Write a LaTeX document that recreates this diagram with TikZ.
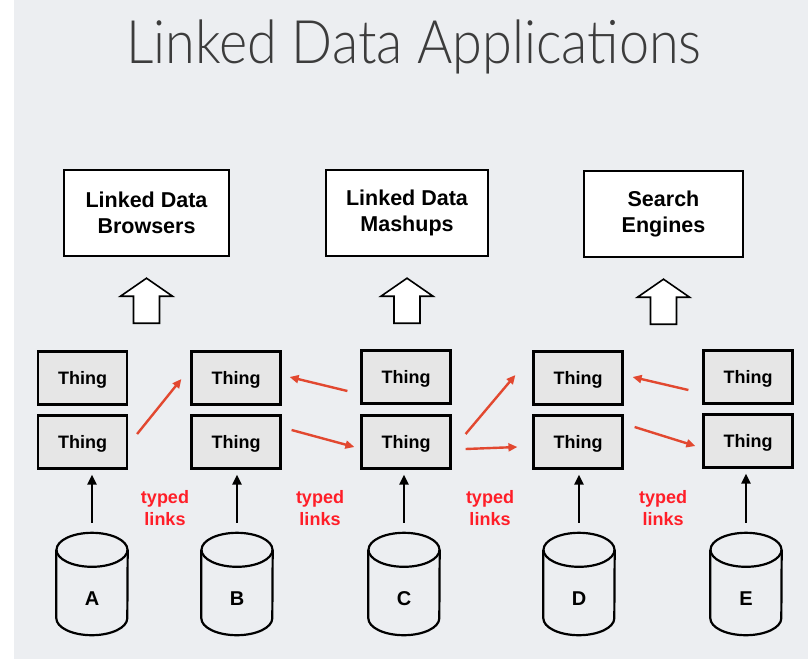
\documentclass[tikz,border=0pt]{standalone}
\usepackage{fontspec}
\setmainfont{Liberation Sans}
\newfontfamily\titlefont{Lato Light}
\usetikzlibrary{arrows.meta,calc}
\definecolor{bgcol}{RGB}{236,238,241}
\definecolor{thingfill}{RGB}{230,230,230}
\definecolor{linkred}{RGB}{226,72,48}
\definecolor{labelred}{RGB}{255,30,40}
\definecolor{titlegray}{RGB}{60,60,60}
\tikzset{
  appbox/.style={draw=black, line width=2.4pt, fill=white, minimum width=#1, minimum height=86pt, inner sep=0pt, align=center, font=\fontsize{21.5}{26}\selectfont\bfseries},
  thingbox/.style={draw=black, line width=2.2pt, fill=thingfill, minimum width=89pt, minimum height=53pt, inner sep=0pt, text depth=0pt, font=\fontsize{18}{20}\selectfont\bfseries},
  redlink/.style={draw=linkred, line width=2.4pt, -{Triangle[length=9pt,width=8pt]}},
  uparrow/.style={-{Triangle[length=10pt,width=9pt]}, line width=2.6pt, black},
  hollow/.style={draw=black, line width=1.6pt, fill=white, line join=miter},
  typedlbl/.style={text=labelred, align=center, font=\fontsize{18}{22}\selectfont\bfseries},
  cyllbl/.style={font=\fontsize{20}{22}\selectfont\bfseries},
  cylbody/.style={draw=black, line width=2.2pt}
}
\newcommand{\mycyl}[3]{%
  \node[inner sep=0pt, minimum width=71pt, minimum height=102pt] (#1) at (#2,-584) {};
  \draw[cylbody] ([yshift=-17pt]#1.north west) -- ([yshift=17pt]#1.south west)
     arc[start angle=180, end angle=360, x radius=35.5pt, y radius=17pt]
     -- ([yshift=-17pt]#1.north east);
  \draw[cylbody] ([yshift=-17pt]#1.north) ellipse[x radius=35.5pt, y radius=17pt];
  \node[cyllbl] (#1l) at (#2,-599) {#3};
}
\newcommand{\hollowup}[1]{%
  \draw[hollow] ($(#1.south)+(0,-21)$) -- ++(26,-18) -- ++(-13,0) -- ++(0,-27) -- ++(-26,0) -- ++(0,27) -- ++(-13,0) -- cycle;
}
\begin{document}
\begin{tikzpicture}[x=1pt,y=1pt]
\fill[white] (0,0) rectangle (808,-659);
\fill[bgcol] (14,0) rectangle (808,-659);
\useasboundingbox (0,0) rectangle (808,-659);

\node[text=titlegray, font=\titlefont\fontsize{60}{64}\selectfont] (title) at (414,-47) {\scalebox{0.9}[1]{Linked Data Applications}};

% application boxes
\node[appbox=165pt] (b1) at (146.5,-213) {Linked Data\\Browsers};
\node[appbox=162pt] (b2) at (407,-213) {Linked Data\\Mashups};
\node[appbox=159pt] (b3) at (663.5,-214) {Search\\Engines};
\hollowup{b1}
\hollowup{b2}
\hollowup{b3}

% things
\node[thingbox] (tA1) at (82.5,-378) {Thing};
\node[thingbox] (tA2) at (82.5,-442) {Thing};
\node[thingbox] (tB1) at (236,-378) {Thing};
\node[thingbox] (tB2) at (236,-442) {Thing};
\node[thingbox] (tC1) at (406,-377) {Thing};
\node[thingbox] (tC2) at (406,-442) {Thing};
\node[thingbox] (tD1) at (578,-378) {Thing};
\node[thingbox] (tD2) at (578,-442) {Thing};
\node[thingbox] (tE1) at (748,-377) {Thing};
\node[thingbox] (tE2) at (748,-441) {Thing};

% cylinders
\mycyl{cA}{92}{A}
\mycyl{cB}{237}{B}
\mycyl{cC}{404}{C}
\mycyl{cD}{579}{D}
\mycyl{cE}{746}{E}

\draw[uparrow] ([yshift=10pt]cA.north) -- ([yshift=-5pt]cA.north |- tA2.south);
\draw[uparrow] ([yshift=10pt]cB.north) -- ([yshift=-5pt]cB.north |- tB2.south);
\draw[uparrow] ([yshift=10pt]cC.north) -- ([yshift=-5pt]cC.north |- tC2.south);
\draw[uparrow] ([yshift=10pt]cD.north) -- ([yshift=-5pt]cD.north |- tD2.south);
\draw[uparrow] ([yshift=10pt]cE.north) -- ([yshift=-5pt]cE.north |- tE2.south);

% typed links
\draw[redlink] ([xshift=9pt,yshift=8pt]tA2.east) -- ([xshift=-9pt,yshift=-1pt]tB1.west);
\draw[redlink] ([xshift=-13pt,yshift=-14pt]tC1.west) -- ([xshift=8pt,yshift=1pt]tB1.east);
\draw[redlink] ([xshift=10pt,yshift=12pt]tB2.east) -- ([xshift=-6pt,yshift=-5pt]tC2.west);
\draw[redlink] ([xshift=14pt,yshift=8pt]tC2.east) -- ([xshift=-17pt,yshift=3pt]tD1.west);
\draw[redlink] ([xshift=14pt,yshift=-7pt]tC2.east) -- ([xshift=-15pt,yshift=-5pt]tD2.west);
\draw[redlink] ([xshift=-14pt,yshift=-13pt]tE1.west) -- ([xshift=9pt,yshift=1pt]tD1.east);
\draw[redlink] ([xshift=11pt,yshift=15pt]tD2.east) -- ([xshift=-7pt,yshift=-5pt]tE2.west);

\node[typedlbl] (l1) at (165,-508) {typed\\links};
\node[typedlbl] (l2) at (320,-508) {typed\\links};
\node[typedlbl] (l3) at (490,-508) {typed\\links};
\node[typedlbl] (l4) at (663,-508) {typed\\links};
\end{tikzpicture}
\end{document}
